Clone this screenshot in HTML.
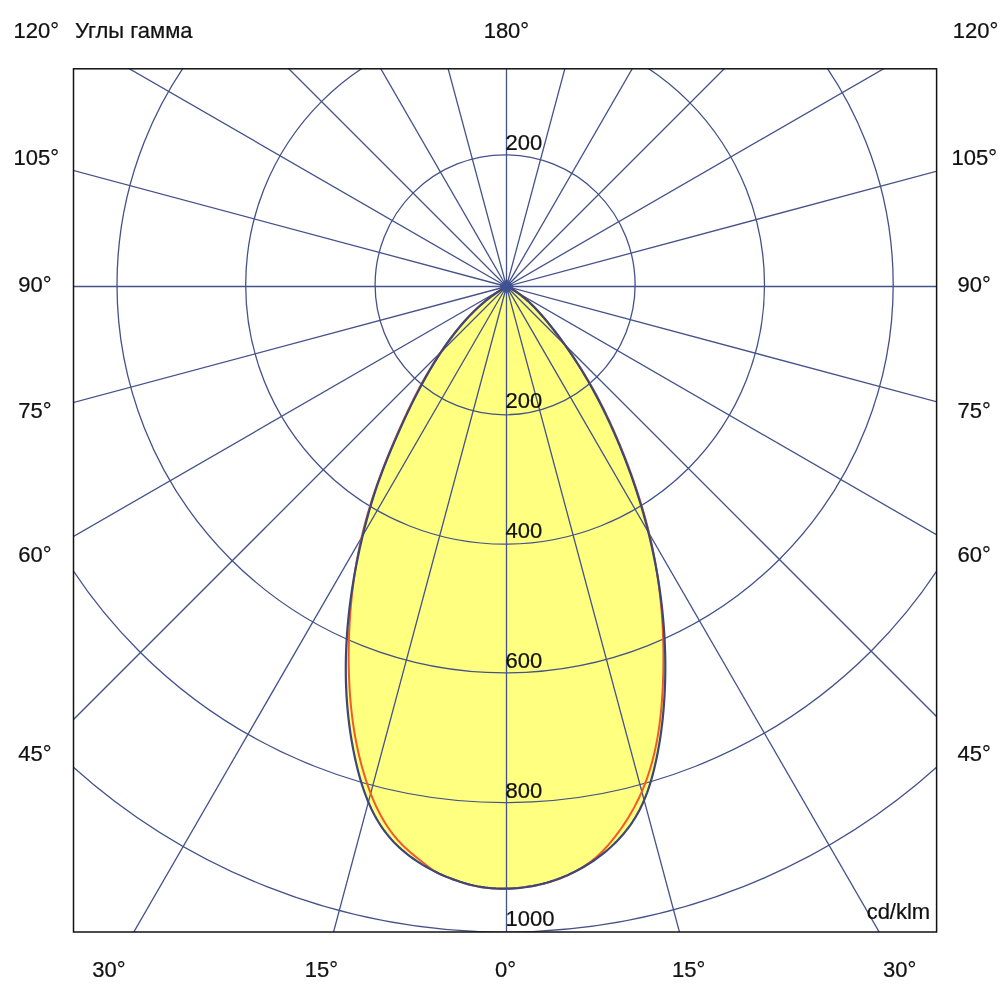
<!DOCTYPE html>
<html><head><meta charset="utf-8"><title>LDC</title>
<style>
html,body{margin:0;padding:0;background:#fff;}
svg{display:block;}
text{font-family:"Liberation Sans","Noto Sans CJK SC",sans-serif;font-size:22px;fill:#111;stroke:#111;stroke-width:0.22px;}
</style></head><body>
<svg width="1000" height="1000" viewBox="0 0 1000 1000">
<defs><clipPath id="c"><rect x="73.5" y="68.8" width="863.1" height="863.2"/></clipPath></defs>
<rect width="1000" height="1000" fill="#fff"/>
<g clip-path="url(#c)">
<path d="M506.50 286.50 L503.39 288.46 L500.20 290.40 L497.07 292.42 L494.01 294.51 L491.01 296.68 L488.08 298.92 L485.20 301.23 L482.38 303.60 L479.62 306.03 L476.91 308.52 L474.25 311.07 L471.65 313.67 L469.10 316.32 L466.59 319.02 L464.13 321.76 L461.72 324.55 L459.35 327.37 L457.02 330.23 L454.74 333.12 L452.49 336.05 L450.28 339.00 L448.11 341.97 L445.97 344.98 L443.86 348.00 L441.79 351.05 L439.76 354.12 L437.75 357.21 L435.77 360.32 L433.83 363.45 L431.91 366.60 L430.03 369.77 L428.17 372.95 L426.34 376.16 L424.53 379.37 L422.75 382.61 L420.99 385.86 L419.26 389.12 L417.55 392.40 L415.86 395.68 L414.19 398.98 L412.54 402.30 L410.91 405.62 L409.30 408.95 L407.71 412.29 L406.13 415.63 L404.57 418.99 L403.03 422.35 L401.50 425.71 L399.98 429.08 L398.48 432.46 L396.99 435.84 L395.50 439.22 L394.04 442.60 L392.58 445.99 L391.14 449.39 L389.72 452.79 L388.31 456.19 L386.92 459.60 L385.55 463.02 L384.20 466.44 L382.87 469.87 L381.56 473.31 L380.28 476.76 L379.03 480.22 L377.79 483.69 L376.59 487.16 L375.41 490.65 L374.26 494.15 L373.14 497.66 L372.05 501.18 L370.99 504.71 L369.94 508.25 L368.93 511.79 L367.93 515.35 L366.96 518.91 L366.01 522.48 L365.08 526.05 L364.18 529.63 L363.29 533.21 L362.41 536.80 L361.56 540.39 L360.73 543.99 L359.92 547.59 L359.12 551.20 L358.35 554.81 L357.60 558.42 L356.87 562.04 L356.16 565.66 L355.47 569.28 L354.80 572.91 L354.15 576.54 L353.53 580.18 L352.93 583.82 L352.35 587.46 L351.79 591.11 L351.26 594.75 L350.75 598.41 L350.26 602.06 L349.79 605.72 L349.35 609.38 L348.94 613.04 L348.55 616.70 L348.18 620.37 L347.84 624.04 L347.52 627.71 L347.23 631.38 L346.96 635.06 L346.72 638.73 L346.51 642.41 L346.32 646.09 L346.16 649.77 L346.03 653.45 L345.93 657.13 L345.85 660.81 L345.80 664.50 L345.78 668.18 L345.79 671.86 L345.82 675.55 L345.89 679.23 L345.98 682.91 L346.11 686.59 L346.27 690.27 L346.45 693.95 L346.67 697.63 L346.92 701.31 L347.20 704.98 L347.51 708.66 L347.85 712.33 L348.23 716.00 L348.64 719.67 L349.08 723.33 L349.56 726.99 L350.06 730.65 L350.61 734.31 L351.18 737.97 L351.80 741.62 L352.44 745.26 L353.12 748.91 L353.84 752.55 L354.59 756.18 L355.38 759.81 L356.20 763.44 L357.07 767.06 L357.97 770.67 L358.92 774.27 L359.92 777.85 L360.96 781.41 L362.06 784.96 L363.21 788.47 L364.42 791.97 L365.69 795.43 L367.03 798.86 L368.42 802.25 L369.89 805.61 L371.42 808.93 L373.03 812.20 L374.72 815.43 L376.48 818.61 L378.33 821.73 L380.25 824.80 L382.27 827.82 L384.37 830.77 L386.57 833.66 L388.85 836.48 L391.24 839.24 L393.72 841.92 L396.29 844.54 L398.95 847.08 L401.69 849.56 L404.51 851.96 L407.40 854.29 L410.36 856.55 L413.38 858.74 L416.46 860.86 L419.60 862.90 L422.78 864.87 L426.02 866.77 L429.29 868.60 L432.60 870.36 L435.94 872.04 L439.31 873.65 L442.71 875.18 L446.12 876.64 L449.54 878.03 L452.98 879.35 L456.43 880.58 L459.89 881.74 L463.37 882.82 L466.87 883.81 L470.39 884.71 L473.95 885.52 L477.52 886.24 L481.13 886.87 L484.76 887.41 L488.40 887.85 L492.06 888.20 L495.74 888.46 L499.42 888.63 L503.10 888.70 L506.79 888.69 L510.47 888.58 L514.15 888.38 L517.82 888.10 L521.48 887.72 L525.13 887.26 L528.77 886.71 L532.40 886.08 L536.01 885.35 L539.61 884.55 L543.19 883.66 L546.75 882.69 L550.28 881.63 L553.79 880.49 L557.28 879.28 L560.74 877.98 L564.17 876.60 L567.57 875.15 L570.94 873.61 L574.27 872.00 L577.57 870.32 L580.83 868.56 L584.05 866.72 L587.23 864.81 L590.37 862.83 L593.45 860.78 L596.49 858.66 L599.48 856.46 L602.41 854.20 L605.29 851.87 L608.10 849.47 L610.86 847.01 L613.55 844.48 L616.17 841.89 L618.72 839.23 L621.20 836.51 L623.60 833.73 L625.93 830.89 L628.17 827.99 L630.34 825.04 L632.42 822.02 L634.41 818.95 L636.31 815.82 L638.11 812.64 L639.83 809.40 L641.45 806.11 L642.99 802.78 L644.44 799.40 L645.82 795.98 L647.12 792.53 L648.34 789.05 L649.51 785.54 L650.61 782.00 L651.65 778.44 L652.63 774.86 L653.57 771.27 L654.45 767.66 L655.30 764.05 L656.10 760.43 L656.87 756.81 L657.59 753.18 L658.28 749.55 L658.93 745.92 L659.55 742.28 L660.13 738.64 L660.67 734.99 L661.18 731.34 L661.66 727.68 L662.10 724.03 L662.52 720.37 L662.90 716.70 L663.25 713.04 L663.57 709.37 L663.87 705.70 L664.13 702.02 L664.37 698.35 L664.58 694.67 L664.76 690.99 L664.92 687.31 L665.05 683.63 L665.16 679.94 L665.24 676.26 L665.29 672.57 L665.31 668.88 L665.31 665.20 L665.29 661.51 L665.24 657.82 L665.16 654.14 L665.05 650.45 L664.93 646.76 L664.77 643.08 L664.59 639.39 L664.39 635.71 L664.16 632.02 L663.90 628.34 L663.62 624.66 L663.31 620.98 L662.98 617.31 L662.63 613.63 L662.25 609.96 L661.84 606.29 L661.42 602.63 L660.96 598.96 L660.49 595.30 L659.98 591.64 L659.46 587.99 L658.91 584.34 L658.34 580.69 L657.74 577.05 L657.12 573.41 L656.47 569.77 L655.80 566.14 L655.11 562.52 L654.40 558.90 L653.66 555.28 L652.90 551.67 L652.12 548.07 L651.31 544.47 L650.48 540.87 L649.63 537.28 L648.75 533.70 L647.85 530.12 L646.94 526.55 L645.99 522.98 L645.03 519.42 L644.04 515.87 L643.04 512.32 L642.01 508.78 L640.96 505.24 L639.88 501.71 L638.79 498.19 L637.67 494.68 L636.54 491.17 L635.38 487.66 L634.20 484.17 L633.00 480.68 L631.78 477.20 L630.54 473.73 L629.28 470.26 L628.00 466.80 L626.70 463.35 L625.38 459.90 L624.04 456.47 L622.68 453.04 L621.29 449.62 L619.89 446.20 L618.47 442.80 L617.03 439.40 L615.57 436.01 L614.09 432.63 L612.59 429.26 L611.08 425.90 L609.54 422.55 L607.97 419.20 L606.39 415.87 L604.79 412.55 L603.16 409.24 L601.52 405.94 L599.85 402.65 L598.16 399.38 L596.44 396.12 L594.70 392.87 L592.94 389.63 L591.16 386.41 L589.35 383.20 L587.51 380.00 L585.65 376.82 L583.77 373.66 L581.86 370.50 L579.93 367.37 L577.97 364.25 L575.99 361.14 L573.97 358.06 L571.94 354.99 L569.87 351.93 L567.79 348.89 L565.67 345.87 L563.53 342.87 L561.35 339.89 L559.16 336.92 L556.93 333.97 L554.68 331.04 L552.39 328.13 L550.08 325.24 L547.75 322.37 L545.38 319.52 L542.97 316.70 L540.53 313.91 L538.05 311.17 L535.52 308.48 L532.94 305.85 L530.31 303.29 L527.61 300.80 L524.86 298.39 L522.03 296.07 L519.14 293.85 L516.17 291.73 L513.12 289.72 L509.98 287.83 L506.50 286.50 Z" fill="#ffff80" stroke="none"/>
<g stroke="#44528a" stroke-width="1.3" fill="none"><line x1="506.5" y1="286.5" x2="506.50" y2="2286.50"/><line x1="506.5" y1="286.5" x2="1024.14" y2="2218.35"/><line x1="506.5" y1="286.5" x2="1506.50" y2="2018.55"/><line x1="506.5" y1="286.5" x2="1920.71" y2="1700.71"/><line x1="506.5" y1="286.5" x2="2238.55" y2="1286.50"/><line x1="506.5" y1="286.5" x2="2438.35" y2="804.14"/><line x1="506.5" y1="286.5" x2="2506.50" y2="286.50"/><line x1="506.5" y1="286.5" x2="2438.35" y2="-231.14"/><line x1="506.5" y1="286.5" x2="2238.55" y2="-713.50"/><line x1="506.5" y1="286.5" x2="1920.71" y2="-1127.71"/><line x1="506.5" y1="286.5" x2="1506.50" y2="-1445.55"/><line x1="506.5" y1="286.5" x2="1024.14" y2="-1645.35"/><line x1="506.5" y1="286.5" x2="506.50" y2="-1713.50"/><line x1="506.5" y1="286.5" x2="-11.14" y2="-1645.35"/><line x1="506.5" y1="286.5" x2="-493.50" y2="-1445.55"/><line x1="506.5" y1="286.5" x2="-907.71" y2="-1127.71"/><line x1="506.5" y1="286.5" x2="-1225.55" y2="-713.50"/><line x1="506.5" y1="286.5" x2="-1425.35" y2="-231.14"/><line x1="506.5" y1="286.5" x2="-1493.50" y2="286.50"/><line x1="506.5" y1="286.5" x2="-1425.35" y2="804.14"/><line x1="506.5" y1="286.5" x2="-1225.55" y2="1286.50"/><line x1="506.5" y1="286.5" x2="-907.71" y2="1700.71"/><line x1="506.5" y1="286.5" x2="-493.50" y2="2018.55"/><line x1="506.5" y1="286.5" x2="-11.14" y2="2218.35"/><circle cx="505.1" cy="284.8" r="130.00"/><circle cx="505.1" cy="284.8" r="259.40"/><circle cx="505.1" cy="284.8" r="388.10"/><circle cx="505.1" cy="284.8" r="517.80"/><circle cx="505.1" cy="284.8" r="647.30"/></g>
<path d="M506.50 286.50 L503.40 288.45 L500.24 290.39 L497.14 292.41 L494.11 294.50 L491.13 296.66 L488.21 298.89 L485.34 301.18 L482.53 303.54 L479.78 305.95 L477.07 308.42 L474.42 310.94 L471.81 313.51 L469.26 316.14 L466.75 318.81 L464.28 321.52 L461.86 324.27 L459.48 327.06 L457.14 329.89 L454.85 332.75 L452.59 335.64 L450.37 338.56 L448.18 341.51 L446.03 344.48 L443.91 347.47 L441.83 350.49 L439.78 353.53 L437.76 356.59 L435.78 359.67 L433.82 362.78 L431.90 365.90 L430.00 369.04 L428.13 372.20 L426.29 375.38 L424.48 378.57 L422.69 381.78 L420.92 385.01 L419.18 388.25 L417.47 391.50 L415.78 394.77 L414.11 398.04 L412.46 401.33 L410.83 404.63 L409.22 407.94 L407.63 411.26 L406.06 414.59 L404.51 417.92 L402.97 421.26 L401.45 424.61 L399.94 427.96 L398.45 431.32 L396.97 434.68 L395.51 438.04 L394.05 441.41 L392.62 444.78 L391.19 448.16 L389.79 451.54 L388.39 454.92 L387.02 458.31 L385.66 461.71 L384.32 465.12 L383.00 468.53 L381.69 471.95 L380.41 475.37 L379.14 478.81 L377.90 482.26 L376.68 485.71 L375.48 489.18 L374.30 492.66 L373.14 496.15 L372.01 499.64 L370.91 503.15 L369.83 506.67 L368.77 510.19 L367.74 513.73 L366.74 517.27 L365.76 520.82 L364.81 524.37 L363.89 527.93 L363.00 531.50 L362.14 535.07 L361.31 538.65 L360.51 542.23 L359.74 545.81 L358.99 549.40 L358.27 553.00 L357.59 556.60 L356.92 560.20 L356.29 563.81 L355.68 567.42 L355.10 571.04 L354.55 574.66 L354.02 578.28 L353.52 581.91 L353.05 585.54 L352.60 589.17 L352.18 592.81 L351.78 596.45 L351.41 600.10 L351.06 603.74 L350.74 607.39 L350.44 611.05 L350.17 614.70 L349.92 618.36 L349.69 622.02 L349.49 625.68 L349.31 629.35 L349.15 633.01 L349.02 636.68 L348.91 640.35 L348.82 644.02 L348.75 647.70 L348.71 651.37 L348.69 655.05 L348.69 658.73 L348.71 662.41 L348.75 666.09 L348.83 669.76 L348.92 673.44 L349.04 677.12 L349.19 680.80 L349.37 684.47 L349.57 688.14 L349.80 691.81 L350.06 695.48 L350.35 699.15 L350.66 702.81 L351.01 706.47 L351.39 710.12 L351.81 713.77 L352.25 717.41 L352.73 721.05 L353.24 724.69 L353.79 728.32 L354.37 731.94 L354.98 735.55 L355.64 739.16 L356.33 742.76 L357.05 746.36 L357.82 749.94 L358.62 753.52 L359.46 757.09 L360.35 760.65 L361.27 764.20 L362.24 767.74 L363.24 771.27 L364.29 774.79 L365.38 778.30 L366.52 781.80 L367.70 785.28 L368.93 788.75 L370.21 792.20 L371.54 795.63 L372.93 799.03 L374.38 802.40 L375.89 805.75 L377.47 809.05 L379.11 812.33 L380.82 815.56 L382.61 818.74 L384.47 821.88 L386.41 824.97 L388.43 828.01 L390.53 830.99 L392.72 833.91 L395.01 836.77 L397.38 839.57 L399.85 842.29 L402.41 844.95 L405.07 847.53 L407.81 850.04 L410.60 852.50 L413.45 854.89 L416.31 857.23 L419.19 859.53 L422.06 861.78 L424.91 864.00 L427.72 866.18 L430.47 868.34 L433.29 870.35 L436.27 872.16 L439.43 873.78 L442.76 875.25 L446.20 876.61 L449.70 877.91 L453.18 879.20 L456.65 880.47 L460.10 881.71 L463.56 882.89 L467.02 883.99 L470.51 884.99 L474.03 885.87 L477.58 886.62 L481.16 887.24 L484.77 887.74 L488.41 888.12 L492.07 888.39 L495.74 888.56 L499.43 888.64 L503.12 888.64 L506.81 888.56 L510.50 888.41 L514.19 888.19 L517.87 887.89 L521.54 887.52 L525.20 887.08 L528.84 886.56 L532.47 885.96 L536.08 885.29 L539.67 884.53 L543.24 883.69 L546.78 882.76 L550.30 881.75 L553.79 880.66 L557.24 879.47 L560.66 878.20 L564.05 876.83 L567.39 875.37 L570.70 873.82 L573.96 872.17 L577.18 870.42 L580.35 868.58 L583.46 866.63 L586.52 864.59 L589.52 862.45 L592.44 860.22 L595.29 857.91 L598.04 855.50 L600.71 853.01 L603.28 850.44 L605.76 847.79 L608.17 845.07 L610.53 842.30 L612.85 839.48 L615.13 836.61 L617.35 833.69 L619.54 830.72 L621.67 827.72 L623.75 824.67 L625.79 821.58 L627.77 818.45 L629.69 815.29 L631.56 812.09 L633.37 808.87 L635.12 805.61 L636.81 802.33 L638.44 799.02 L640.01 795.69 L641.51 792.34 L642.94 788.96 L644.31 785.57 L645.62 782.15 L646.87 778.72 L648.07 775.27 L649.20 771.80 L650.28 768.31 L651.31 764.81 L652.28 761.30 L653.20 757.76 L654.07 754.22 L654.89 750.66 L655.66 747.09 L656.39 743.50 L657.07 739.91 L657.71 736.30 L658.30 732.69 L658.86 729.06 L659.37 725.43 L659.85 721.79 L660.29 718.14 L660.70 714.48 L661.07 710.82 L661.41 707.15 L661.72 703.48 L662.00 699.81 L662.25 696.13 L662.47 692.45 L662.67 688.77 L662.84 685.08 L662.99 681.40 L663.12 677.72 L663.23 674.03 L663.31 670.35 L663.38 666.67 L663.42 662.99 L663.44 659.31 L663.44 655.63 L663.42 651.95 L663.37 648.28 L663.30 644.60 L663.21 640.93 L663.09 637.26 L662.96 633.59 L662.79 629.92 L662.61 626.26 L662.40 622.59 L662.17 618.93 L661.91 615.28 L661.63 611.62 L661.32 607.97 L660.99 604.32 L660.63 600.67 L660.24 597.03 L659.84 593.39 L659.40 589.75 L658.94 586.11 L658.45 582.48 L657.94 578.86 L657.40 575.23 L656.83 571.61 L656.24 568.00 L655.62 564.39 L654.97 560.78 L654.30 557.18 L653.59 553.58 L652.86 549.98 L652.11 546.40 L651.32 542.81 L650.51 539.23 L649.68 535.66 L648.82 532.09 L647.93 528.53 L647.02 524.97 L646.08 521.42 L645.12 517.87 L644.14 514.33 L643.13 510.80 L642.10 507.27 L641.04 503.75 L639.96 500.23 L638.86 496.73 L637.74 493.22 L636.60 489.73 L635.43 486.24 L634.25 482.76 L633.04 479.29 L631.81 475.82 L630.56 472.37 L629.29 468.92 L628.01 465.47 L626.70 462.04 L625.37 458.61 L624.03 455.20 L622.66 451.79 L621.28 448.39 L619.88 445.00 L618.47 441.61 L617.03 438.24 L615.58 434.87 L614.11 431.52 L612.62 428.17 L611.11 424.83 L609.59 421.51 L608.03 418.19 L606.46 414.89 L604.87 411.60 L603.25 408.31 L601.60 405.04 L599.93 401.78 L598.23 398.53 L596.51 395.30 L594.76 392.08 L592.98 388.87 L591.17 385.67 L589.33 382.48 L587.46 379.31 L585.55 376.16 L583.62 373.02 L581.67 369.89 L579.69 366.78 L577.68 363.69 L575.66 360.61 L573.62 357.55 L571.56 354.52 L569.48 351.50 L567.39 348.50 L565.29 345.52 L563.17 342.56 L561.03 339.62 L558.86 336.69 L556.68 333.78 L554.46 330.88 L552.22 327.99 L549.94 325.12 L547.63 322.25 L545.28 319.40 L542.89 316.57 L540.46 313.77 L537.98 311.02 L535.45 308.31 L532.86 305.67 L530.23 303.09 L527.53 300.60 L524.77 298.19 L521.94 295.89 L519.05 293.69 L516.09 291.61 L513.05 289.67 L509.94 287.86 L506.50 286.50 Z" fill="none" stroke="#f05a2a" stroke-width="2" stroke-linejoin="round"/>
<path d="M506.50 286.50 L503.39 288.46 L500.20 290.40 L497.07 292.42 L494.01 294.51 L491.01 296.68 L488.08 298.92 L485.20 301.23 L482.38 303.60 L479.62 306.03 L476.91 308.52 L474.25 311.07 L471.65 313.67 L469.10 316.32 L466.59 319.02 L464.13 321.76 L461.72 324.55 L459.35 327.37 L457.02 330.23 L454.74 333.12 L452.49 336.05 L450.28 339.00 L448.11 341.97 L445.97 344.98 L443.86 348.00 L441.79 351.05 L439.76 354.12 L437.75 357.21 L435.77 360.32 L433.83 363.45 L431.91 366.60 L430.03 369.77 L428.17 372.95 L426.34 376.16 L424.53 379.37 L422.75 382.61 L420.99 385.86 L419.26 389.12 L417.55 392.40 L415.86 395.68 L414.19 398.98 L412.54 402.30 L410.91 405.62 L409.30 408.95 L407.71 412.29 L406.13 415.63 L404.57 418.99 L403.03 422.35 L401.50 425.71 L399.98 429.08 L398.48 432.46 L396.99 435.84 L395.50 439.22 L394.04 442.60 L392.58 445.99 L391.14 449.39 L389.72 452.79 L388.31 456.19 L386.92 459.60 L385.55 463.02 L384.20 466.44 L382.87 469.87 L381.56 473.31 L380.28 476.76 L379.03 480.22 L377.79 483.69 L376.59 487.16 L375.41 490.65 L374.26 494.15 L373.14 497.66 L372.05 501.18 L370.99 504.71 L369.94 508.25 L368.93 511.79 L367.93 515.35 L366.96 518.91 L366.01 522.48 L365.08 526.05 L364.18 529.63 L363.29 533.21 L362.41 536.80 L361.56 540.39 L360.73 543.99 L359.92 547.59 L359.12 551.20 L358.35 554.81 L357.60 558.42 L356.87 562.04 L356.16 565.66 L355.47 569.28 L354.80 572.91 L354.15 576.54 L353.53 580.18 L352.93 583.82 L352.35 587.46 L351.79 591.11 L351.26 594.75 L350.75 598.41 L350.26 602.06 L349.79 605.72 L349.35 609.38 L348.94 613.04 L348.55 616.70 L348.18 620.37 L347.84 624.04 L347.52 627.71 L347.23 631.38 L346.96 635.06 L346.72 638.73 L346.51 642.41 L346.32 646.09 L346.16 649.77 L346.03 653.45 L345.93 657.13 L345.85 660.81 L345.80 664.50 L345.78 668.18 L345.79 671.86 L345.82 675.55 L345.89 679.23 L345.98 682.91 L346.11 686.59 L346.27 690.27 L346.45 693.95 L346.67 697.63 L346.92 701.31 L347.20 704.98 L347.51 708.66 L347.85 712.33 L348.23 716.00 L348.64 719.67 L349.08 723.33 L349.56 726.99 L350.06 730.65 L350.61 734.31 L351.18 737.97 L351.80 741.62 L352.44 745.26 L353.12 748.91 L353.84 752.55 L354.59 756.18 L355.38 759.81 L356.20 763.44 L357.07 767.06 L357.97 770.67 L358.92 774.27 L359.92 777.85 L360.96 781.41 L362.06 784.96 L363.21 788.47 L364.42 791.97 L365.69 795.43 L367.03 798.86 L368.42 802.25 L369.89 805.61 L371.42 808.93 L373.03 812.20 L374.72 815.43 L376.48 818.61 L378.33 821.73 L380.25 824.80 L382.27 827.82 L384.37 830.77 L386.57 833.66 L388.85 836.48 L391.24 839.24 L393.72 841.92 L396.29 844.54 L398.95 847.08 L401.69 849.56 L404.51 851.96 L407.40 854.29 L410.36 856.55 L413.38 858.74 L416.46 860.86 L419.60 862.90 L422.78 864.87 L426.02 866.77 L429.29 868.60 L432.60 870.36 L435.94 872.04 L439.31 873.65 L442.71 875.18 L446.12 876.64 L449.54 878.03 L452.98 879.35 L456.43 880.58 L459.89 881.74 L463.37 882.82 L466.87 883.81 L470.39 884.71 L473.95 885.52 L477.52 886.24 L481.13 886.87 L484.76 887.41 L488.40 887.85 L492.06 888.20 L495.74 888.46 L499.42 888.63 L503.10 888.70 L506.79 888.69 L510.47 888.58 L514.15 888.38 L517.82 888.10 L521.48 887.72 L525.13 887.26 L528.77 886.71 L532.40 886.08 L536.01 885.35 L539.61 884.55 L543.19 883.66 L546.75 882.69 L550.28 881.63 L553.79 880.49 L557.28 879.28 L560.74 877.98 L564.17 876.60 L567.57 875.15 L570.94 873.61 L574.27 872.00 L577.57 870.32 L580.83 868.56 L584.05 866.72 L587.23 864.81 L590.37 862.83 L593.45 860.78 L596.49 858.66 L599.48 856.46 L602.41 854.20 L605.29 851.87 L608.10 849.47 L610.86 847.01 L613.55 844.48 L616.17 841.89 L618.72 839.23 L621.20 836.51 L623.60 833.73 L625.93 830.89 L628.17 827.99 L630.34 825.04 L632.42 822.02 L634.41 818.95 L636.31 815.82 L638.11 812.64 L639.83 809.40 L641.45 806.11 L642.99 802.78 L644.44 799.40 L645.82 795.98 L647.12 792.53 L648.34 789.05 L649.51 785.54 L650.61 782.00 L651.65 778.44 L652.63 774.86 L653.57 771.27 L654.45 767.66 L655.30 764.05 L656.10 760.43 L656.87 756.81 L657.59 753.18 L658.28 749.55 L658.93 745.92 L659.55 742.28 L660.13 738.64 L660.67 734.99 L661.18 731.34 L661.66 727.68 L662.10 724.03 L662.52 720.37 L662.90 716.70 L663.25 713.04 L663.57 709.37 L663.87 705.70 L664.13 702.02 L664.37 698.35 L664.58 694.67 L664.76 690.99 L664.92 687.31 L665.05 683.63 L665.16 679.94 L665.24 676.26 L665.29 672.57 L665.31 668.88 L665.31 665.20 L665.29 661.51 L665.24 657.82 L665.16 654.14 L665.05 650.45 L664.93 646.76 L664.77 643.08 L664.59 639.39 L664.39 635.71 L664.16 632.02 L663.90 628.34 L663.62 624.66 L663.31 620.98 L662.98 617.31 L662.63 613.63 L662.25 609.96 L661.84 606.29 L661.42 602.63 L660.96 598.96 L660.49 595.30 L659.98 591.64 L659.46 587.99 L658.91 584.34 L658.34 580.69 L657.74 577.05 L657.12 573.41 L656.47 569.77 L655.80 566.14 L655.11 562.52 L654.40 558.90 L653.66 555.28 L652.90 551.67 L652.12 548.07 L651.31 544.47 L650.48 540.87 L649.63 537.28 L648.75 533.70 L647.85 530.12 L646.94 526.55 L645.99 522.98 L645.03 519.42 L644.04 515.87 L643.04 512.32 L642.01 508.78 L640.96 505.24 L639.88 501.71 L638.79 498.19 L637.67 494.68 L636.54 491.17 L635.38 487.66 L634.20 484.17 L633.00 480.68 L631.78 477.20 L630.54 473.73 L629.28 470.26 L628.00 466.80 L626.70 463.35 L625.38 459.90 L624.04 456.47 L622.68 453.04 L621.29 449.62 L619.89 446.20 L618.47 442.80 L617.03 439.40 L615.57 436.01 L614.09 432.63 L612.59 429.26 L611.08 425.90 L609.54 422.55 L607.97 419.20 L606.39 415.87 L604.79 412.55 L603.16 409.24 L601.52 405.94 L599.85 402.65 L598.16 399.38 L596.44 396.12 L594.70 392.87 L592.94 389.63 L591.16 386.41 L589.35 383.20 L587.51 380.00 L585.65 376.82 L583.77 373.66 L581.86 370.50 L579.93 367.37 L577.97 364.25 L575.99 361.14 L573.97 358.06 L571.94 354.99 L569.87 351.93 L567.79 348.89 L565.67 345.87 L563.53 342.87 L561.35 339.89 L559.16 336.92 L556.93 333.97 L554.68 331.04 L552.39 328.13 L550.08 325.24 L547.75 322.37 L545.38 319.52 L542.97 316.70 L540.53 313.91 L538.05 311.17 L535.52 308.48 L532.94 305.85 L530.31 303.29 L527.61 300.80 L524.86 298.39 L522.03 296.07 L519.14 293.85 L516.17 291.73 L513.12 289.72 L509.98 287.83 L506.50 286.50 Z" fill="none" stroke="#3b4778" stroke-width="2.2" stroke-linejoin="round"/>
<polygon points="506.5,279.3 513.9,286.5 506.5,293.7 499.1,286.5" fill="#3d5292"/>
</g>
<rect x="73.5" y="68.8" width="863.1" height="863.2" fill="none" stroke="#111" stroke-width="1.5"/>
<text transform="translate(36.2 38)" text-anchor="middle">120°</text><text transform="translate(75 38)" text-anchor="start">Углы гамма</text><text transform="translate(506.4 38)" text-anchor="middle">180°</text><text transform="translate(975.5 38)" text-anchor="middle">120°</text><text transform="translate(36.2 164.8)" text-anchor="middle">105°</text><text transform="translate(974.2 164.8)" text-anchor="middle">105°</text><text transform="translate(35.0 292)" text-anchor="middle">90°</text><text transform="translate(974.2 292)" text-anchor="middle">90°</text><text transform="translate(35.0 417.6)" text-anchor="middle">75°</text><text transform="translate(974.2 417.6)" text-anchor="middle">75°</text><text transform="translate(35.0 561.6)" text-anchor="middle">60°</text><text transform="translate(974.2 561.6)" text-anchor="middle">60°</text><text transform="translate(35.0 761)" text-anchor="middle">45°</text><text transform="translate(974.2 761)" text-anchor="middle">45°</text><text transform="translate(109 976.8)" text-anchor="middle">30°</text><text transform="translate(321.4 976.8)" text-anchor="middle">15°</text><text transform="translate(505.6 976.8)" text-anchor="middle">0°</text><text transform="translate(688.6 976.8)" text-anchor="middle">15°</text><text transform="translate(899.6 976.8)" text-anchor="middle">30°</text>
<text transform="translate(505.6 150.2)" text-anchor="start">200</text><text transform="translate(505.6 408.3)" text-anchor="start">200</text><text transform="translate(505.6 538.4)" text-anchor="start">400</text><text transform="translate(505.6 667.9)" text-anchor="start">600</text><text transform="translate(505.6 797.7)" text-anchor="start">800</text><text transform="translate(505.6 926)" text-anchor="start">1000</text><text transform="translate(930.2 918.8)" text-anchor="end">cd/klm</text>
</svg>
</body></html>
